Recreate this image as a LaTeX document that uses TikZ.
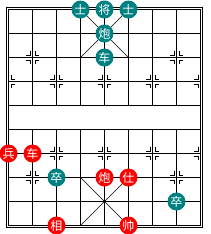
\documentclass[tikz,border=0pt]{standalone}
\usepackage{fontspec}
\newfontfamily\cjk{Noto Sans CJK SC}
\usepackage{tikz}
\usetikzlibrary{positioning,calc}
\usepackage{xcolor}
\definecolor{noir}{RGB}{0,128,128}
\definecolor{rouge}{RGB}{255,0,0}

\tikzset{
  grille/.style={black, line width=1pt},
  palais/.style={black, line width=0.6pt},
  piece/.style={circle, minimum size=18pt, inner sep=0pt, text=white,
    font=\cjk\fontsize{12}{12}\selectfont},
  pnoir/.style={piece, fill=noir},
  prouge/.style={piece, fill=rouge}
}
% repere de position (colonne, rangee, cotes)
\newcommand{\repere}[3]{%
  \foreach \sx in {#3}{\foreach \sy in {-1,1}{
    \draw[grille, line width=0.8pt] ({8.5+24*#1+\sx*6.5},{9.5+24*#2+\sy*2.5})
      -- ({8.5+24*#1+\sx*2.5},{9.5+24*#2+\sy*2.5})
      -- ({8.5+24*#1+\sx*2.5},{9.5+24*#2+\sy*6.5});}}}

\begin{document}
\begin{tikzpicture}[x=1pt, y=-1pt]
    \useasboundingbox (0,0) rectangle (210,234);
    \fill[white] (0,0) rectangle (210,234);

    % Cadre double
    \draw[grille] (6.5,7.5) rectangle (202.5,227.5);
    \draw[grille] (8.5,9.5) rectangle (200.5,225.5);

    % Lignes horizontales
    \foreach \r in {1,...,8}
        \draw[grille] (8.5,{9.5+24*\r}) -- (200.5,{9.5+24*\r});
    % Lignes verticales (coupees par le fleuve)
    \foreach \c in {1,...,7}{
        \draw[grille] ({8.5+24*\c},9.5) -- ({8.5+24*\c},105.5);
        \draw[grille] ({8.5+24*\c},129.5) -- ({8.5+24*\c},225.5);
    }

    % Palais
    \draw[palais] (80.5,9.5) -- (128.5,57.5);
    \draw[palais] (128.5,9.5) -- (80.5,57.5);
    \draw[palais] (80.5,177.5) -- (128.5,225.5);
    \draw[palais] (128.5,177.5) -- (80.5,225.5);
    \fill (104.5,201.5) circle (1.6pt);

    % Reperes des canons et des pions
    \repere{1}{2}{-1,1}
    \repere{7}{2}{-1,1}
    \repere{1}{7}{-1,1}
    \repere{7}{7}{-1,1}
    \foreach \r in {3,6}{
        \repere{0}{\r}{1}
        \repere{2}{\r}{-1,1}
        \repere{4}{\r}{-1,1}
        \repere{6}{\r}{-1,1}
        \repere{8}{\r}{-1}
    }

    % Pieces noires
    \foreach \c/\r/\t/\n in {3/0/士/nshiA, 4/0/将/njiang, 5/0/士/nshiB,
        4/1/炮/npao, 4/2/车/nche, 2/7/卒/nzuA, 7/8/卒/nzuB}
        \node[pnoir] (\n) at ({8.5+24*\c},{9.5+24*\r}) {\t};

    % Pieces rouges
    \foreach \c/\r/\t/\n in {0/6/兵/rbing, 1/6/车/rche, 4/7/炮/rpao,
        5/7/仕/rshi, 2/9/相/rxiang, 5/9/帅/rshuai}
        \node[prouge] (\n) at ({8.5+24*\c},{9.5+24*\r}) {\t};
\end{tikzpicture}
\end{document}
